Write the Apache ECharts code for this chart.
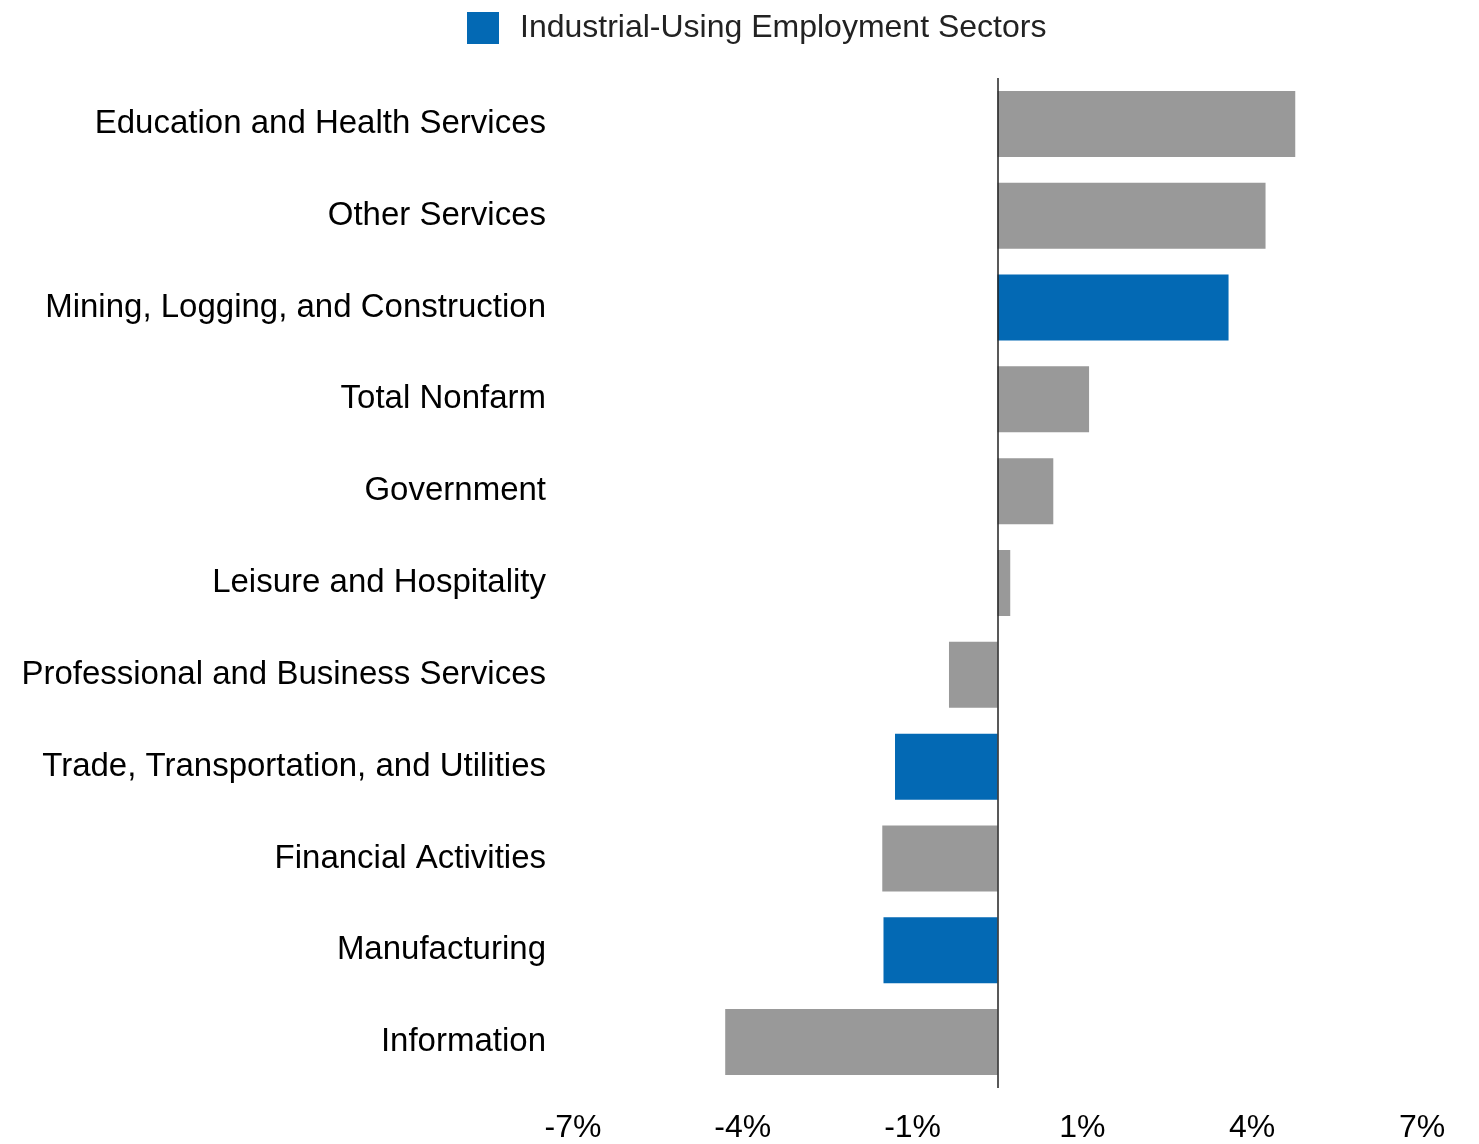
<!DOCTYPE html>
<html>
<head>
<meta charset="utf-8">
<script src="https://cdn.jsdelivr.net/npm/echarts@6/dist/echarts.min.js"></script>
<style>html,body{margin:0;padding:0;background:#fff;}#c{width:1479px;height:1144px;}</style>
</head>
<body>
<div id="c"></div>
<script>
const categories = [
  "Education and Health Services",
  "Other Services",
  "Mining, Logging, and Construction",
  "Total Nonfarm",
  "Government",
  "Leisure and Hospitality",
  "Professional and Business Services",
  "Trade, Transportation, and Utilities",
  "Financial Activities",
  "Manufacturing",
  "Information"
];
const values = [4.91, 4.42, 3.81, 1.51, 0.92, 0.21, -0.80, -1.69, -1.90, -1.88, -4.49];
const industrial = [false, false, true, false, false, false, false, true, false, true, false];
const tickValues = [-7, -4.2, -1.4, 1.4, 4.2, 7];
const legendName = "Industrial-Using Employment Sectors";

const industrialData = values.map((v, i) => industrial[i] ? v : null);
const otherData = values.map((v, i) => industrial[i] ? null : v);

const chart = echarts.init(document.getElementById('c'));
const font = '"Liberation Sans", Arial, sans-serif';
chart.setOption({
  animation: false,
  textStyle: { fontFamily: font },
  legend: {
    data: [legendName],
    left: 467, top: 12, padding: 0,
    itemWidth: 32, itemHeight: 32, itemGap: 21,
    icon: 'rect',
    textStyle: { fontSize: 32, color: '#222', fontFamily: font, padding: [0, 0, 0, 16] }
  },
  grid: { left: 573, right: 57, top: 78, bottom: 52, containLabel: false },
  xAxis: {
    type: 'value', min: -7, max: 7,
    axisLine: { show: false }, axisTick: { show: false }, splitLine: { show: false },
    axisLabel: {
      customValues: tickValues,
      formatter: v => Math.round(v) + '%',
      fontSize: 32, color: '#000', margin: 24, fontFamily: font
    }
  },
  yAxis: {
    type: 'category', data: categories, inverse: true,
    axisLine: { show: false }, axisTick: { show: false },
    axisLabel: { fontSize: 33, color: '#000', margin: 27, fontFamily: font, padding: [8, 0, 0, 0] }
  },
  series: [
    {
      name: legendName, type: 'bar', data: industrialData,
      barWidth: 66, barGap: '-100%',
      itemStyle: { color: '#0369B4' }
    },
    {
      name: 'Other', type: 'bar', data: otherData,
      barWidth: 66, barGap: '-100%',
      itemStyle: { color: '#999999' },
      markLine: {
        silent: true, symbol: 'none', label: { show: false },
        lineStyle: { color: '#222', width: 1.5, type: 'solid' },
        data: [{ xAxis: 0 }]
      }
    }
  ]
});
</script>
</body>
</html>
